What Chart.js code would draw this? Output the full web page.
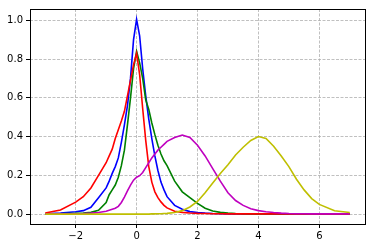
<!DOCTYPE html>
<html>
<head>
<meta charset="utf-8">
<script src="https://cdn.jsdelivr.net/npm/chart.js@4"></script>
<style>
  html, body { margin: 0; padding: 0; background: #fff; }
  #wrap { width: 372px; height: 248px; }
</style>
</head>
<body>
<div id="wrap"><canvas id="c"></canvas></div>
<script>
// ── Data ──────────────────────────────────────────────────────
const xs = [-3, -2.5, -2, -1.75, -1.5, -1.25, -1, -0.9, -0.8, -0.7, -0.6, -0.5, -0.4, -0.3, -0.2, -0.1,
            0, 0.1, 0.2, 0.3, 0.4, 0.5, 0.6, 0.7, 0.8, 0.9, 1, 1.25, 1.5, 1.75, 2, 2.25, 2.5, 2.75,
            3, 3.25, 3.5, 3.75, 4, 4.25, 4.5, 4.75, 5, 5.25, 5.5, 5.75, 6, 6.5, 7];

const redY = [0.006, 0.021, 0.062, 0.09, 0.135, 0.20, 0.265, 0.30, 0.335, 0.39, 0.435, 0.48, 0.53, 0.61, 0.69, 0.77,
              0.83, 0.72, 0.545, 0.38, 0.245, 0.165, 0.115, 0.085, 0.063, 0.045, 0.032, 0.015, 0.009, 0.006, 0.004, 0.003, 0.002, 0.002,
              0.001, 0.001, 0.001, 0.001, 0.001, 0.001, 0.001, 0.001, 0.001, 0.001, 0.001, 0.001, 0.001, 0.001, 0.001];

const blueY = [0.002, 0.006, 0.012, 0.018, 0.035, 0.085, 0.135, 0.17, 0.21, 0.245, 0.29, 0.37, 0.46, 0.56, 0.70, 0.90,
               1.005, 0.92, 0.75, 0.61, 0.49, 0.39, 0.30, 0.225, 0.165, 0.125, 0.09, 0.045, 0.025, 0.013, 0.008, 0.005, 0.003, 0.002,
               0.001, 0.001, 0.001, 0.001, 0.001, 0.001, 0.001, 0.001, 0.001, 0.001, 0.001, 0.001, 0.001, 0.001, 0.001];

const greenY = [0.001, 0.002, 0.004, 0.006, 0.009, 0.02, 0.06, 0.10, 0.125, 0.15, 0.19, 0.25, 0.33, 0.46, 0.60, 0.75,
                0.84, 0.78, 0.70, 0.59, 0.54, 0.47, 0.41, 0.355, 0.31, 0.275, 0.25, 0.17, 0.115, 0.085, 0.055, 0.03, 0.016, 0.009,
                0.005, 0.003, 0.002, 0.001, 0.001, 0.001, 0.001, 0.001, 0.001, 0.001, 0.001, 0.001, 0.001, 0.001, 0.001];

const magentaY = [0.001, 0.001, 0.002, 0.003, 0.005, 0.008, 0.015, 0.02, 0.025, 0.03, 0.04, 0.06, 0.088, 0.12, 0.15, 0.175,
                  0.19, 0.198, 0.215, 0.24, 0.265, 0.29, 0.31, 0.33, 0.345, 0.36, 0.375, 0.395, 0.408, 0.395, 0.355, 0.30, 0.235, 0.17,
                  0.11, 0.07, 0.045, 0.028, 0.018, 0.012, 0.008, 0.005, 0.003, 0.002, 0.002, 0.001, 0.001, 0.001, 0.001];

const yellowY = [0, 0, 0, 0, 0, 0, 0, 0, 0, 0, 0, 0, 0, 0, 0, 0,
                 0, 0, 0, 0, 0, 0.001, 0.001, 0.002, 0.002, 0.003, 0.004, 0.008, 0.018, 0.037, 0.065, 0.11, 0.16, 0.21,
                 0.255, 0.305, 0.345, 0.38, 0.40, 0.39, 0.35, 0.30, 0.245, 0.18, 0.125, 0.08, 0.05, 0.017, 0.008];

const xTicks = [-2, 0, 2, 4, 6];
const yTicks = [0, 0.2, 0.4, 0.6, 0.8, 1.0];

// ── Helpers ───────────────────────────────────────────────────

const pts = ys => xs.map((x, i) => ({ x, y: ys[i] }));

const line = (ys, color) => ({
  data: pts(ys),
  borderColor: color,
  borderWidth: 1.6,
  pointRadius: 0,
  tension: 0,
  fill: false,
});

// full box round the plot, like matplotlib spines
const frame = {
  id: 'frame',
  afterDraw(chart) {
    const { ctx, chartArea: a } = chart;
    ctx.save();
    ctx.strokeStyle = '#000';
    ctx.lineWidth = 1;
    ctx.strokeRect(Math.round(a.left) + 0.5, Math.round(a.top) + 0.5,
                   Math.round(a.right - a.left), Math.round(a.bottom - a.top));
    ctx.restore();
  }
};

const font = { family: 'DejaVu Sans', size: 10 };
const gridOpts = {
  color: '#b0b0b0',
  lineWidth: 0.8,
  tickColor: '#000',
  tickLength: 4,
  tickWidth: 1,
  tickBorderDash: [],
};
// in v4 the grid dash lives on the border options
const borderOpts = { display: false, dash: [3, 1.5] };

new Chart(document.getElementById('c'), {
  type: 'line',
  data: {
    datasets: [
      line(yellowY,  '#bfbf00'),
      line(magentaY, '#bf00bf'),
      line(redY,     '#ff0000'),
      line(greenY,   '#008000'),
      line(blueY,    '#0000ff'),
    ],
  },
  options: {
    responsive: true,
    maintainAspectRatio: false,
    animation: false,
    layout: { padding: { top: 6, right: 7, left: 0, bottom: 0 } },
    plugins: { legend: { display: false }, tooltip: { enabled: false } },
    scales: {
      x: {
        type: 'linear',
        min: -3.5,
        max: 7.5,
        afterBuildTicks: s => { s.ticks = xTicks.map(v => ({ value: v })); },
        afterFit: s => { s.height = 24; },
        ticks: {
          font, color: '#000', padding: 2, maxRotation: 0,
          callback: v => String(v).replace('-', '\u2212'),
        },
        grid: gridOpts,
        border: borderOpts,
      },
      y: {
        type: 'linear',
        min: -0.051,
        max: 1.058,
        afterBuildTicks: s => { s.ticks = yTicks.map(v => ({ value: v })); },
        afterFit: s => { s.width = 30; },
        ticks: { font, color: '#000', padding: 3, callback: v => v.toFixed(1) },
        grid: gridOpts,
        border: borderOpts,
      },
    },
  },
  plugins: [frame],
});
</script>
</body>
</html>
